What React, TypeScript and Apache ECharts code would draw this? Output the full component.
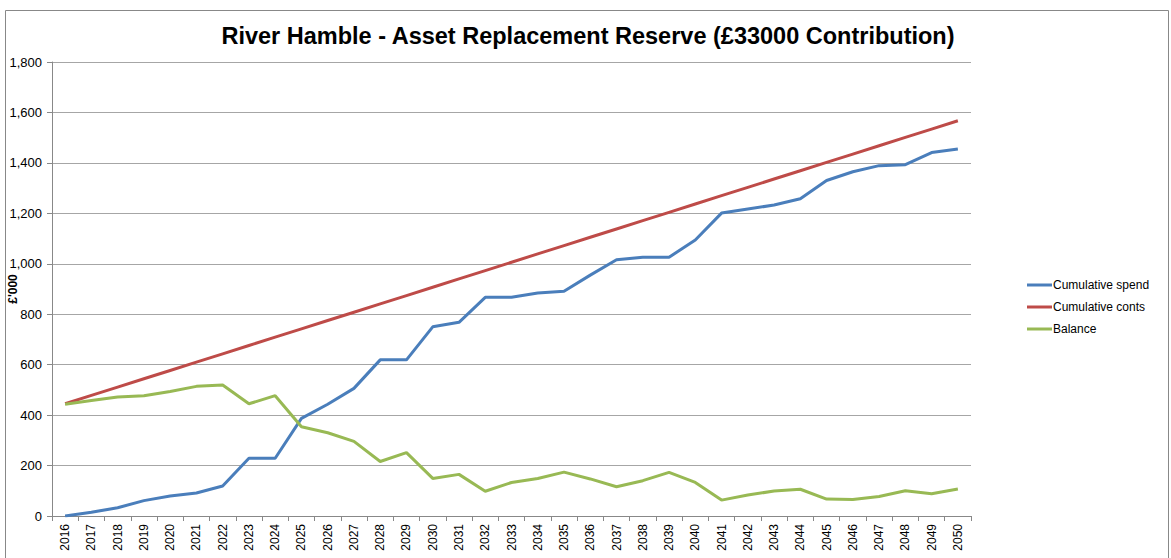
import React, { useEffect, useRef } from "react";
import * as echarts from "echarts";

const years = [
  "2016","2017","2018","2019","2020","2021","2022","2023","2024","2025","2026","2027",
  "2028","2029","2030","2031","2032","2033","2034","2035","2036","2037","2038","2039",
  "2040","2041","2042","2043","2044","2045","2046","2047","2048","2049","2050",
];

const cumulativeSpend = [
  0, 15, 33, 61, 79, 91, 119, 229, 229, 387, 443, 506, 619, 619, 750, 768, 867, 867,
  884, 891, 955, 1016, 1026, 1026, 1094, 1201, 1217, 1233, 1258, 1330, 1365, 1389,
  1393, 1441, 1455,
];

const cumulativeConts = [
  445, 478, 511, 544, 577, 610, 643, 676, 709, 742, 775, 808, 841, 874, 907, 940, 973,
  1006, 1039, 1072, 1105, 1138, 1171, 1204, 1237, 1270, 1303, 1336, 1369, 1402, 1435,
  1468, 1501, 1534, 1567,
];

const balance = [
  443, 458, 472, 477, 494, 514, 519, 445, 477, 354, 330, 296, 216, 251, 149, 165, 98,
  133, 149, 174, 147, 116, 140, 173, 133, 63, 83, 99, 106, 67, 65, 77, 100, 88, 107,
];

const titleText = "River Hamble - Asset Replacement Reserve (£33000 Contribution)";
const yAxisName = "£'000";

export default function App() {
  const ref = useRef<HTMLDivElement>(null);
  useEffect(() => {
    document.body.style.margin = "0";
    if (!ref.current) return;
    const chart = echarts.init(ref.current, null, { renderer: "svg" });
    const font = "Liberation Sans, Arial, sans-serif";
    chart.setOption({
      animation: false,
      backgroundColor: "#ffffff",
      textStyle: { fontFamily: font },
      title: {
        text: titleText,
        left: 583,
        top: 19,
        textAlign: "center",
        textStyle: { fontFamily: font, fontSize: 23.5, fontWeight: "bold", color: "#000" },
      },
      graphic: [
        {
          type: "rect",
          shape: { x: 5.5, y: 10.5, width: 1163, height: 570 },
          style: { fill: "none", stroke: "#888888", lineWidth: 1 },
          silent: true,
          z: -1,
        },
      ],
      legend: {
        orient: "vertical",
        left: 1022,
        top: 274,
        itemWidth: 25,
        itemHeight: 3,
        itemGap: 10,
        icon: "rect",
        textStyle: { fontFamily: font, fontSize: 12, color: "#000", padding: [0, 0, 0, -4] },
        data: ["Cumulative spend", "Cumulative conts", "Balance"],
      },
      grid: {
        left: 52,
        top: 62,
        right: 200,
        bottom: 42,
        containLabel: false,
        outerBoundsMode: "none",
      },
      xAxis: {
        type: "category",
        data: years,
        boundaryGap: true,
        axisLine: { lineStyle: { color: "#888888", width: 1 } },
        axisTick: { show: true, length: 5, lineStyle: { color: "#888888" } },
        axisLabel: {
          rotate: 90,
          interval: 0,
          margin: 8,
          fontFamily: font,
          fontSize: 12,
          color: "#000",
        },
      },
      yAxis: {
        type: "value",
        min: 0,
        max: 1800,
        interval: 200,
        name: yAxisName,
        nameLocation: "middle",
        nameGap: 33,
        nameRotate: 90,
        nameMoveOverlap: false,
        nameTextStyle: { fontFamily: font, fontSize: 12, fontWeight: "bold", color: "#000" },
        axisLine: { show: true, lineStyle: { color: "#888888", width: 1 } },
        axisTick: { show: true, length: 5, lineStyle: { color: "#888888" } },
        splitLine: { lineStyle: { color: "#a6a6a6", width: 1 } },
        axisLabel: {
          margin: 10,
          fontFamily: font,
          fontSize: 13,
          color: "#000",
          formatter: (v: number) => v.toLocaleString("en-GB"),
        },
      },
      series: [
        {
          name: "Cumulative spend",
          type: "line",
          data: cumulativeSpend,
          showSymbol: false,
          symbol: "none",
          lineStyle: { color: "#4a7ebb", width: 3 },
          itemStyle: { color: "#4a7ebb" },
        },
        {
          name: "Cumulative conts",
          type: "line",
          data: cumulativeConts,
          showSymbol: false,
          symbol: "none",
          lineStyle: { color: "#be4b48", width: 3 },
          itemStyle: { color: "#be4b48" },
        },
        {
          name: "Balance",
          type: "line",
          data: balance,
          showSymbol: false,
          symbol: "none",
          lineStyle: { color: "#98b954", width: 3 },
          itemStyle: { color: "#98b954" },
        },
      ],
    });
    return () => chart.dispose();
  }, []);
  return <div ref={ref} style={{ width: 1171, height: 558 }} />;
}
